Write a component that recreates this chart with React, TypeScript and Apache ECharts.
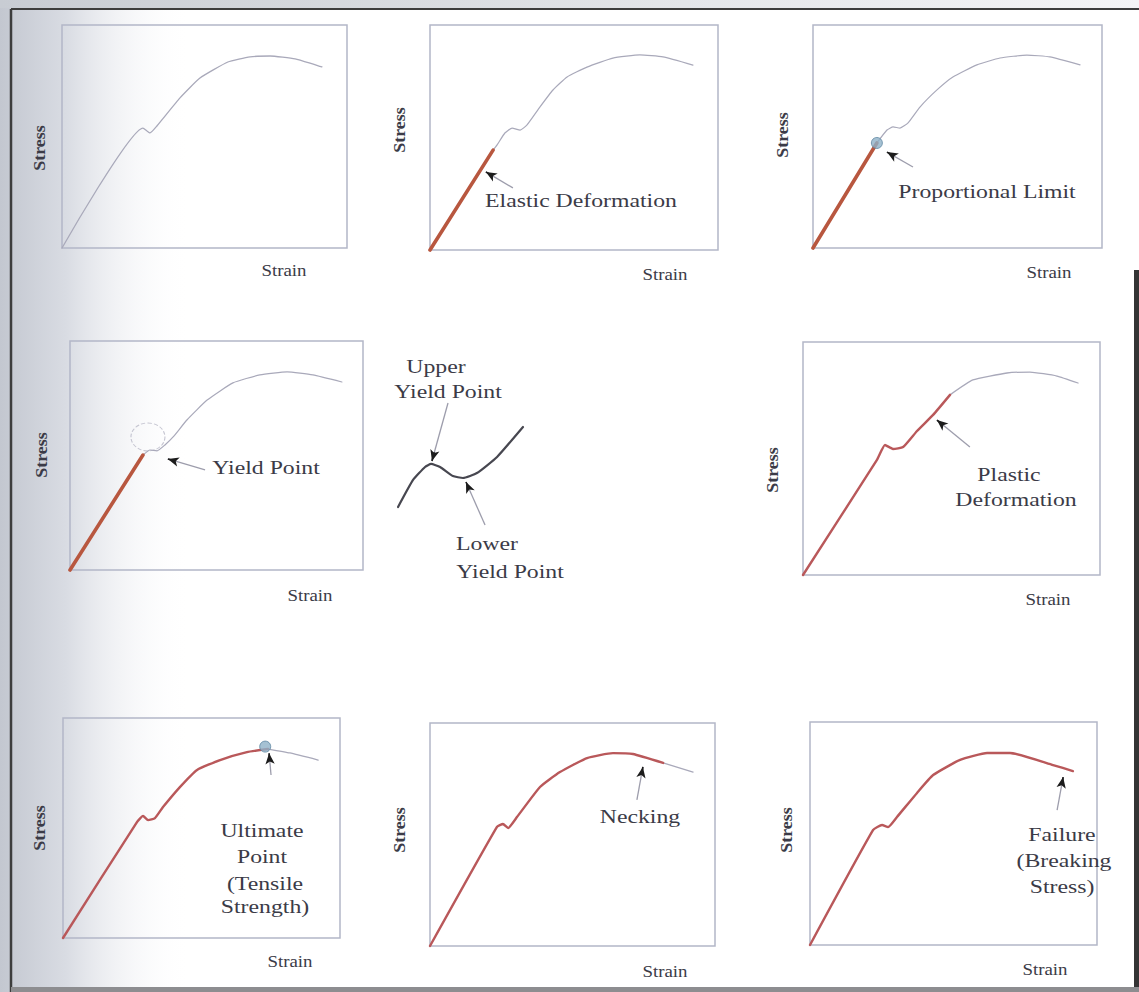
import React, { useEffect, useRef } from "react";
import * as echarts from "echarts";

// ---------- DATA (strain %, stress % of each small plot) ----------
const panel1Curve = [[0, 0], [28.4, 53.8], [30.9, 51.6], [33.3, 54.7], [41.4, 67.3], [48.4, 76.2], [58.2, 83.4], [66, 85.7], [73, 86.1], [81.8, 84.8], [91.2, 81.2]];

const panel2Elastic = [[0, 0], [21.9, 44.4]];
const panel2Rest = [[21.9, 44.4], [23.3, 46.7], [26, 52], [28.5, 54.2], [31.3, 53.3], [33.7, 55.6], [38.2, 63.6], [42.7, 71.1], [47.6, 76.9], [54.5, 81.3], [63.5, 85.3], [72.9, 86.7], [80.9, 85.8], [91.3, 82.2]];
const panel2Arrow = [[28.8, 27.6], [19.4, 34.7]];

const panel3Elastic = [[0, 0], [22.1, 47.1]];
const panel3Rest = [[22.1, 47.1], [25.6, 52.9], [27.7, 54.3], [30.1, 53.8], [32.9, 56.1], [37, 63.2], [42.9, 70.9], [48.4, 76.7], [56.7, 82.1], [64.7, 85.2], [74, 86.5], [82, 85.7], [92.4, 82.1]];
const panel3Dot = [[22.1, 47.1]];
const panel3Arrow = [[34.6, 36.3], [25.6, 43]];

const panel4Elastic = [[0, 0], [24.9, 50.2]];
const panel4Rest = [[24.9, 50.2], [27.3, 52.4], [29.7, 52], [32.4, 54.6], [35.2, 58.1], [39.9, 65.5], [46.8, 74.2], [55.6, 81.7], [64.8, 85.2], [74.1, 86.5], [82.9, 85.2], [92.8, 82.1]];
const panel4Ring = [[26.6, 58.1]];
const panel4Arrow = [[46.1, 43.7], [33.4, 48.5]];

const sketchCurve = [[8.7, 17.7], [18.7, 38.5], [26.7, 48.5], [30.7, 50.8], [36.7, 48.5], [45.3, 41.5], [52, 40], [61.3, 43.8], [74.7, 56.2], [92, 79.2]];
const sketchUpperArrow = [[42, 97.7], [31.3, 53.1]];
const sketchLowerArrow = [[66.7, 3.8], [54, 36.9]];

const panel6Plastic = [[0, 0], [24.9, 49.4], [27.6, 55.8], [30.3, 54.1], [33.7, 54.9], [38.4, 61.8], [43.8, 68.7], [49.5, 77.3]];
const panel6Rest = [[49.5, 77.3], [57.2, 83.7], [68.7, 86.7], [76.4, 87.1], [85.5, 85.4], [92.6, 82.4]];
const panel6Arrow = [[56.2, 54.9], [45.1, 66.5]];

const panel7Loaded = [[0, 0], [26.7, 52.7], [28.9, 55.5], [30.7, 53.6], [33.2, 54.5], [36.1, 59.5], [42.2, 68.6], [48.4, 76.4], [56.7, 80.9], [66.4, 84.5], [74, 85.9]];
const panel7Rest = [[74, 85.9], [81.9, 84.1], [92.1, 80.9]];
const panel7Dot = [[73, 87]];
const panel7Arrow = [[75.1, 74.1], [74.4, 84]];

const panel8Loaded = [[0, 0], [23.5, 53.4], [25.6, 54.7], [27.4, 52.9], [30.5, 57.8], [38.6, 71.3], [45.6, 78], [55.1, 84.3], [64.2, 86.5], [71.2, 86.1], [81.8, 82.1]];
const panel8Rest = [[81.8, 82.1], [92.3, 78]];
const panel8Arrow = [[72.6, 65.5], [74.7, 80.3]];

const panel9Loaded = [[0, 0], [22, 51.6], [25.1, 53.8], [27.2, 52.9], [30.3, 57.4], [37.3, 68.2], [42.9, 76.2], [52.3, 83], [61.7, 86.1], [69.7, 86.1], [84.7, 80.7], [91.6, 78]];
const panel9Arrow = [[86.1, 60.5], [88.2, 75.3]];

const axisTitles = ["Stress", "Strain"];

// ---------- LAYOUT ----------
const GRIDS = [
  { left: 62, top: 25, width: 285, height: 223, box: true },
  { left: 430, top: 25, width: 288, height: 225, box: true },
  { left: 813, top: 25, width: 289, height: 223, box: true },
  { left: 70, top: 341, width: 293, height: 229, box: true },
  { left: 385, top: 400, width: 150, height: 130, box: false },
  { left: 803, top: 342, width: 297, height: 233, box: true },
  { left: 63, top: 718, width: 277, height: 220, box: true },
  { left: 430, top: 723, width: 285, height: 223, box: true },
  { left: 810, top: 722, width: 287, height: 223, box: true },
];

const STRESS_POS = [[40, 148], [400, 130], [783, 135], [42, 455], [773, 470], [40, 828], [400, 830], [787, 830]];
const STRAIN_POS = [[284, 271], [665, 275], [1049, 273], [310, 596], [1048, 600], [290, 962], [665, 972], [1045, 970]];

const NOTES: [string, number, number][] = [
  ["Elastic Deformation", 581, 201],
  ["Proportional Limit", 987, 192],
  ["Yield Point", 266, 468],
  ["Upper", 436, 367],
  ["Yield Point", 448, 392],
  ["Lower", 487, 544],
  ["Yield Point", 510, 572],
  ["Plastic", 1009, 475],
  ["Deformation", 1016, 500],
  ["Ultimate", 262, 831],
  ["Point", 262, 857],
  ["(Tensile", 265, 884],
  ["Strength)", 265, 907],
  ["Necking", 640, 817],
  ["Failure", 1062, 835],
  ["(Breaking", 1064, 861],
  ["Stress)", 1062, 887],
];

const LIGHT = "#a9a9ba";
const RED = "#b8573f";
const RED2 = "#b9585a";
const TEXT = "#3b3b47";
const FONT = "'Liberation Serif', 'Times New Roman', serif";

function line(idx: number, data: number[][], color: string, width: number, z = 3): any {
  return {
    type: "line",
    xAxisIndex: idx,
    yAxisIndex: idx,
    data,
    symbol: "none",
    showSymbol: false,
    smooth: 0.15,
    clip: false,
    silent: true,
    z,
    lineStyle: { color, width, cap: "round", join: "round" },
  };
}

function arrowMark(list: number[][][]): any {
  return {
    silent: true,
    symbol: ["none", "none"],
    label: { show: false },
    lineStyle: { type: "solid" },
    data: list.flatMap(([tail, head]) => {
      const near = [head[0] + (tail[0] - head[0]) * 0.15, head[1] + (tail[1] - head[1]) * 0.15];
      return [
        [
          { coord: tail, symbol: "none", lineStyle: { color: "#9d9dac", width: 1.3, type: "solid" } },
          { coord: head, symbol: "none" },
        ],
        [
          { coord: near, symbol: "none", lineStyle: { color: "#1c1c1c", width: 1.6, type: "solid" } },
          { coord: head, symbol: "arrow", symbolSize: [7, 11] },
        ],
      ];
    }),
  };
}

function withArrow(s: any, arrow: number[][]) {
  s.markLine = arrowMark([arrow]);
  return s;
}

function buildOption(): any {
  const grid = GRIDS.map((g) => ({
    left: g.left,
    top: g.top,
    width: g.width,
    height: g.height,
    show: g.box,
    borderColor: "#b3b7c7",
    borderWidth: 1.5,
    backgroundColor: "transparent",
    containLabel: false,
  }));
  const xAxis = GRIDS.map((_, i) => ({ type: "value", gridIndex: i, min: 0, max: 100, show: false }));
  const yAxis = GRIDS.map((_, i) => ({ type: "value", gridIndex: i, min: 0, max: 100, show: false }));

  const series: any[] = [
    line(0, panel1Curve, LIGHT, 1.3),

    withArrow(line(1, panel2Rest, LIGHT, 1.2), panel2Arrow),
    line(1, panel2Elastic, RED, 3.6, 4),

    withArrow(line(2, panel3Rest, LIGHT, 1.2), panel3Arrow),
    line(2, panel3Elastic, RED, 3.6, 4),
    {
      type: "scatter", xAxisIndex: 2, yAxisIndex: 2, data: panel3Dot, symbolSize: 11, silent: true, z: 6,
      itemStyle: { color: "#8fb2c8", borderColor: "#5f87a2", borderWidth: 1 },
    },

    withArrow(line(3, panel4Rest, LIGHT, 1.2), panel4Arrow),
    line(3, panel4Elastic, RED, 3.6, 4),
    {
      type: "scatter", xAxisIndex: 3, yAxisIndex: 3, data: panel4Ring, symbolSize: [34, 28], silent: true, z: 2,
      itemStyle: { color: "rgba(0,0,0,0)", borderColor: "#b6b6c6", borderType: "dashed", borderWidth: 1 },
    },

    (() => {
      const s = line(4, sketchCurve, "#474750", 2.2);
      s.markLine = arrowMark([sketchUpperArrow, sketchLowerArrow]);
      return s;
    })(),

    withArrow(line(5, panel6Rest, LIGHT, 1.3), panel6Arrow),
    line(5, panel6Plastic, RED2, 2.4, 4),

    withArrow(line(6, panel7Rest, LIGHT, 1.3), panel7Arrow),
    line(6, panel7Loaded, RED2, 2.4, 4),
    {
      type: "scatter", xAxisIndex: 6, yAxisIndex: 6, data: panel7Dot, symbolSize: 11, silent: true, z: 6,
      itemStyle: { color: "#8fb2c8", borderColor: "#5f87a2", borderWidth: 1 },
    },

    withArrow(line(7, panel8Rest, LIGHT, 1.3), panel8Arrow),
    line(7, panel8Loaded, RED2, 2.4, 4),

    withArrow(line(8, panel9Loaded, RED2, 2.4, 4), panel9Arrow),
  ];

  const graphic: any[] = [
    // scan background: grey left band + page border
    {
      type: "rect", z: -10, silent: true,
      shape: { x: 0, y: 0, width: 190, height: 992 },
      style: {
        fill: new echarts.graphic.LinearGradient(0, 0, 1, 0, [
          { offset: 0, color: "#c3c7d0" },
          { offset: 0.35, color: "#d9dce3" },
          { offset: 1, color: "rgba(255,255,255,0)" },
        ]),
      },
    },
    {
      type: "rect", z: -9, silent: true,
      shape: { x: 0, y: 0, width: 1139, height: 8 },
      style: {
        fill: new echarts.graphic.LinearGradient(0, 0, 1, 0, [
          { offset: 0, color: "#c8ccd3" },
          { offset: 0.6, color: "#e4e6ea" },
          { offset: 1, color: "#f4f4f6" },
        ]),
      },
    },
    { type: "line", z: 20, silent: true, shape: { x1: 11, y1: 9, x2: 1139, y2: 9 }, style: { stroke: "#3d3d3d", lineWidth: 2 } },
    { type: "line", z: 20, silent: true, shape: { x1: 11, y1: 9, x2: 11, y2: 992 }, style: { stroke: "#3d3d3d", lineWidth: 2.5 } },
    { type: "rect", z: 20, silent: true, shape: { x: 1134, y: 270, width: 5, height: 722 }, style: { fill: "#343434" } },
    { type: "rect", z: 20, silent: true, shape: { x: 11, y: 987, width: 1128, height: 5 }, style: { fill: "#8d8d90" } },
  ];

  STRESS_POS.forEach(([x, y]) => {
    graphic.push({
      type: "text", x, y, rotation: Math.PI / 2, scaleX: 1.12, silent: true, z: 10,
      style: {
        text: axisTitles[0], fill: TEXT, fontSize: 16, fontFamily: FONT, fontWeight: "bold",
        textAlign: "center", align: "center", textVerticalAlign: "middle", verticalAlign: "middle",
      },
    });
  });
  STRAIN_POS.forEach(([x, y]) => {
    graphic.push({
      type: "text", x, y, scaleX: 1.18, silent: true, z: 10,
      style: {
        text: axisTitles[1], fill: TEXT, fontSize: 16, fontFamily: FONT,
        textAlign: "center", align: "center", textVerticalAlign: "middle", verticalAlign: "middle",
      },
    });
  });
  NOTES.forEach(([t, x, y]) => {
    graphic.push({
      type: "text", x, y, scaleX: 1.25, silent: true, z: 10,
      style: {
        text: t, fill: TEXT, fontSize: 19, fontFamily: FONT,
        textAlign: "center", align: "center", textVerticalAlign: "middle", verticalAlign: "middle",
      },
    });
  });

  return {
    animation: false,
    backgroundColor: "#ffffff",
    grid,
    xAxis,
    yAxis,
    series,
    graphic,
  };
}

export default function App() {
  const ref = useRef<HTMLDivElement>(null);
  useEffect(() => {
    if (!ref.current) return;
    const chart = echarts.init(ref.current, null, { renderer: "svg" });
    chart.setOption(buildOption());
    return () => chart.dispose();
  }, []);
  return (
    <div
      ref={ref}
      style={{ position: "fixed", left: 0, top: 0, width: 1139, height: 992, background: "#fff" }}
    />
  );
}
